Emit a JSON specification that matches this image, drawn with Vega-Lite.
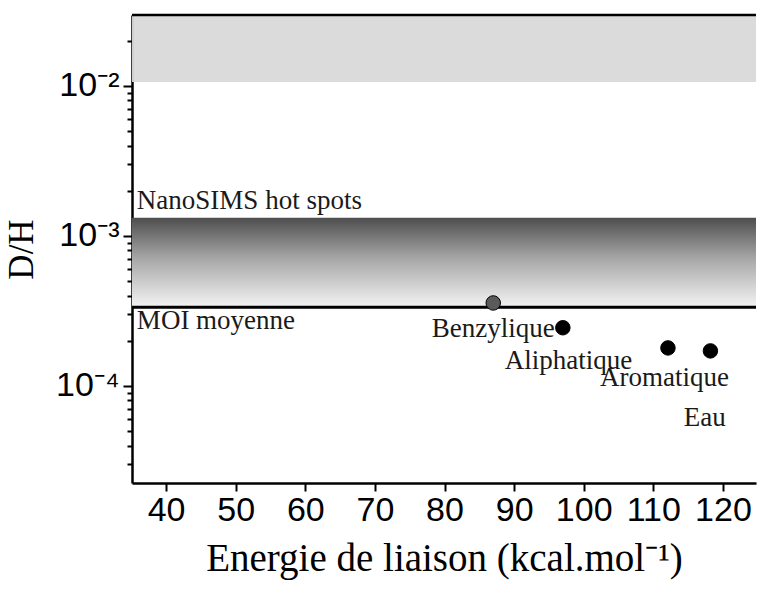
{
  "$schema": "https://vega.github.io/schema/vega-lite/v6.json",
  "width": 624,
  "height": 468,
  "autosize": {"type": "none"},
  "padding": {"left": 132, "top": 15, "right": 1, "bottom": 107},
  "background": "white",
  "config": {
    "view": {"stroke": null},
    "axis": {
      "grid": false,
      "domainColor": "black",
      "domainWidth": 2.5,
      "tickColor": "black",
      "tickWidth": 2,
      "labelFont": "Liberation Sans",
      "labelFontSize": 34,
      "labelColor": "black",
      "titleFont": "Liberation Serif",
      "titleFontWeight": "normal",
      "titleColor": "black"
    }
  },
  "layer": [
    {
      "data": {"values": [{"lo": 0.0106, "hi": 0.0297, "zone": "upper"}]},
      "mark": {"type": "rect", "fill": "#d9d9d9", "opacity": 0.95},
      "encoding": {
        "y": {"field": "lo", "type": "quantitative"},
        "y2": {"field": "hi"}
      }
    },
    {
      "data": {"values": [{"lo": 0.000334, "hi": 0.00132, "zone": "NanoSIMS"}]},
      "mark": {
        "type": "rect",
        "fill": {
          "gradient": "linear",
          "x1": 0, "y1": 0, "x2": 0, "y2": 1,
          "stops": [
            {"offset": 0, "color": "#4e4e4e"},
            {"offset": 0.45, "color": "#a6a6a6"},
            {"offset": 1, "color": "#f4f4f4"}
          ]
        }
      },
      "encoding": {
        "y": {"field": "lo", "type": "quantitative"},
        "y2": {"field": "hi"}
      }
    },
    {
      "data": {"values": [{"y": 0.000334, "name": "MOI moyenne"}]},
      "mark": {"type": "rule", "color": "black", "strokeWidth": 3},
      "encoding": {"y": {"field": "y", "type": "quantitative"}}
    },
    {
      "data": {"values": [{"y": 0.0297}]},
      "mark": {"type": "rule", "color": "black", "strokeWidth": 2.5},
      "encoding": {"y": {"field": "y", "type": "quantitative"}}
    },
    {
      "data": {"values": [
        {"x": 35.8, "y": 0.00151, "text": "NanoSIMS hot spots"},
        {"x": 35.8, "y": 0.000240, "text": "MOI moyenne"}
      ]},
      "mark": {"type": "text", "align": "left", "baseline": "alphabetic", "font": "Liberation Serif", "fontSize": 27, "color": "#1a1a1a"},
      "encoding": {
        "x": {"field": "x", "type": "quantitative"},
        "y": {"field": "y", "type": "quantitative"},
        "text": {"field": "text"}
      }
    },
    {
      "data": {"values": [
        {"x": 87.0, "y": 0.000212, "text": "Benzylique"},
        {"x": 97.8, "y": 0.000130, "text": "Aliphatique"},
        {"x": 111.6, "y": 0.000100, "text": "Aromatique"},
        {"x": 117.4, "y": 0.0000536, "text": "Eau"}
      ]},
      "mark": {"type": "text", "align": "center", "baseline": "alphabetic", "font": "Liberation Serif", "fontSize": 27, "color": "#1a1a1a"},
      "encoding": {
        "x": {"field": "x", "type": "quantitative"},
        "y": {"field": "y", "type": "quantitative"},
        "text": {"field": "text"}
      }
    },
    {
      "data": {"values": [
        {"x": 87.0, "y": 0.000357, "type": "Benzylique"},
        {"x": 97.0, "y": 0.000244, "type": "Aliphatique"},
        {"x": 112.1, "y": 0.000179, "type": "Aromatique"},
        {"x": 118.2, "y": 0.000171, "type": "Eau"}
      ]},
      "mark": {"type": "point", "shape": "circle", "filled": true, "size": 210, "opacity": 1, "stroke": "black", "strokeWidth": 1},
      "encoding": {
        "x": {
          "field": "x", "type": "quantitative",
          "scale": {"domain": [35.1, 124.75], "nice": false, "zero": false},
          "axis": {
            "title": "Energie de liaison (kcal.mol⁻¹)",
            "titleFontSize": 39,
            "titlePadding": 12,
            "values": [40, 45, 50, 55, 60, 65, 70, 75, 80, 85, 90, 95, 100, 105, 110, 115, 120],
            "labelExpr": "datum.value % 10 === 0 ? datum.label : ''",
            "tickSize": {"condition": {"test": "datum.value % 10 === 0", "value": 8}, "value": 5},
            "labelPadding": 2,
            "labelFlush": false,
            "labelOverlap": false
          }
        },
        "y": {
          "field": "y", "type": "quantitative",
          "scale": {"type": "log", "domain": [0.0000225, 0.0297], "nice": false},
          "axis": {
            "title": "D/H",
            "titleFontSize": 35,
            "titlePadding": 16,
            "values": [0.00003, 0.00004, 0.00005, 0.00006, 0.00007, 0.00008, 0.00009, 0.0001, 0.0002, 0.0003, 0.0004, 0.0005, 0.0006, 0.0007, 0.0008, 0.0009, 0.001, 0.002, 0.003, 0.004, 0.005, 0.006, 0.007, 0.008, 0.009, 0.01, 0.02],
            "labelExpr": "abs(log(datum.value)/LN10 - round(log(datum.value)/LN10)) < 0.01 ? (round(log(datum.value)/LN10) == -2 ? '10⁻²' : (round(log(datum.value)/LN10) == -3 ? '10⁻³' : '10⁻⁴')) : ''",
            "tickSize": {"condition": {"test": "abs(log(datum.value)/LN10 - round(log(datum.value)/LN10)) < 0.01", "value": 9}, "value": 5},
            "labelPadding": 4,
            "labelFlush": false,
            "labelOverlap": false
          }
        },
        "fill": {
          "field": "type", "type": "nominal",
          "scale": {"domain": ["Benzylique", "Aliphatique", "Aromatique", "Eau"], "range": ["#5a5a5a", "black", "black", "black"]},
          "legend": null
        }
      }
    }
  ]
}
